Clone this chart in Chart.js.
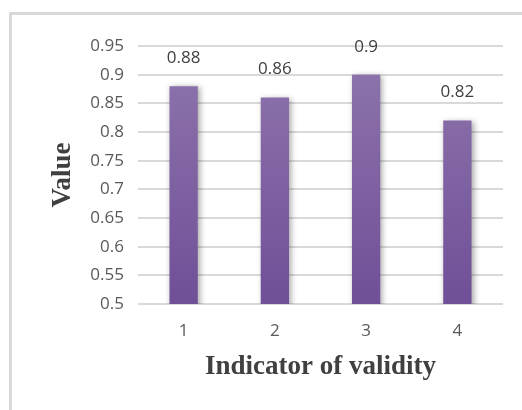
<!DOCTYPE html>
<html>
<head>
<meta charset="utf-8">
<script src="https://cdn.jsdelivr.net/npm/chart.js@4"></script>
<style>
  html, body { margin: 0; padding: 0; background: #fff; }
  #chart { display: block; }
</style>
</head>
<body>
<canvas id="chart" width="522" height="410"></canvas>
<script>
const categories = ["1", "2", "3", "4"];
const values = [0.88, 0.86, 0.9, 0.82];
const yTicks = [0.5, 0.55, 0.6, 0.65, 0.7, 0.75, 0.8, 0.85, 0.9, 0.95];

const tickFont = { family: "'Open Sans', sans-serif", size: 17 };
const titleFont = { family: "'Liberation Serif', serif", size: 27, weight: "bold" };

// frame, bar shadow and value labels
const extras = {
  id: "extras",
  beforeDraw(chart) {
    const ctx = chart.ctx;
    ctx.save();
    ctx.strokeStyle = "#d9d9d9";
    ctx.lineWidth = 3;
    ctx.strokeRect(10.5, 13.5, 530, 500);
    ctx.restore();
  },
  beforeDatasetDraw(chart) {
    const ctx = chart.ctx;
    ctx.save();
    ctx.shadowColor = "rgba(0,0,0,0.35)";
    ctx.shadowBlur = 6;
    ctx.shadowOffsetX = 2;
    ctx.shadowOffsetY = 1;
  },
  afterDatasetDraw(chart) {
    chart.ctx.restore();
  },
  afterDatasetsDraw(chart) {
    const ctx = chart.ctx;
    const meta = chart.getDatasetMeta(0);
    ctx.save();
    ctx.font = tickFont.size + "px " + tickFont.family;
    ctx.fillStyle = "#404040";
    ctx.textAlign = "center";
    ctx.textBaseline = "middle";
    meta.data.forEach((bar, i) => {
      ctx.fillText(String(values[i]), bar.x, bar.y - 28);
    });
    ctx.restore();
  }
};

new Chart(document.getElementById("chart"), {
  type: "bar",
  data: {
    labels: categories,
    datasets: [{
      data: values,
      backgroundColor(c) {
        const area = c.chart.chartArea;
        if (!area) return "#8064a2";
        const g = c.chart.ctx.createLinearGradient(0, area.top, 0, area.bottom);
        g.addColorStop(0, "#8f76ad");
        g.addColorStop(1, "#6f4f97");
        return g;
      },
      barPercentage: 0.31,
      categoryPercentage: 1
    }]
  },
  options: {
    responsive: false,
    animation: false,
    layout: { padding: { top: 46, right: 19, left: 0, bottom: 0 } },
    plugins: { legend: { display: false }, tooltip: { enabled: false } },
    scales: {
      x: {
        grid: { display: false },
        border: { display: false },
        ticks: { color: "#595959", font: tickFont, padding: 9 },
        title: { display: true, text: "Indicator of validity", color: "#404040", font: titleFont, padding: { top: 0, bottom: 27 } },
        afterFit(scale) { scale.height = 106; }
      },
      y: {
        min: 0.5,
        max: 0.95,
        afterBuildTicks(scale) { scale.ticks = yTicks.map(v => ({ value: v })); },
        grid: { color: "#d9d9d9", lineWidth: 2, drawTicks: false },
        border: { display: false },
        ticks: {
          color: "#595959",
          font: tickFont,
          padding: 14,
          callback: v => String(Math.round(v * 100) / 100)
        },
        title: { display: true, text: "Value", color: "#404040", font: titleFont, padding: { top: 47 } },
        afterFit(scale) { scale.width = 138; }
      }
    }
  },
  plugins: [extras]
});
</script>
</body>
</html>
